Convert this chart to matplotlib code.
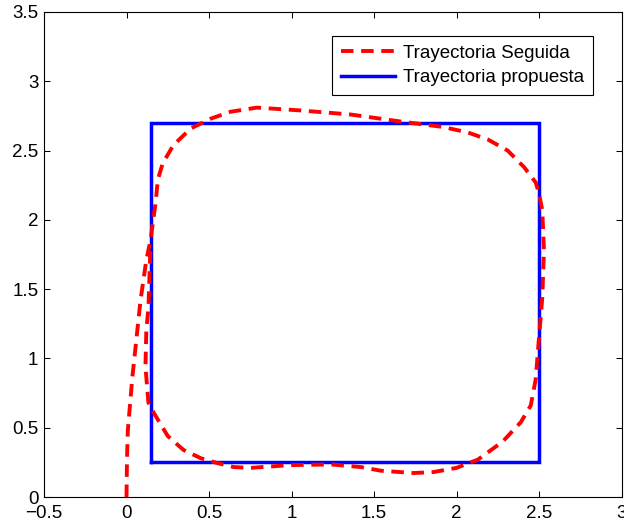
import matplotlib
matplotlib.use("Agg")
import matplotlib.pyplot as plt
import numpy as np
from matplotlib.ticker import FuncFormatter

plt.rcParams['font.family'] = ['Liberation Sans', 'DejaVu Sans']
plt.rcParams['lines.scale_dashes'] = False

# Trajectory followed (red dashed)
SEGUIDA_X = [0.0, 0.003, 0.008, 0.036, 0.085, 0.12, 0.145, 0.176, 0.19, 0.22,
             0.285, 0.39, 0.51, 0.63, 0.79, 1.05, 1.36, 1.66, 1.92, 2.07,
             2.19, 2.31, 2.41, 2.48, 2.50, 2.52, 2.53, 2.52, 2.50, 2.48,
             2.45, 2.39, 2.28, 2.13, 2.00, 1.86, 1.74, 1.54, 1.42, 1.24,
             0.99, 0.75, 0.65, 0.55, 0.45, 0.345, 0.25, 0.164, 0.133, 0.115,
             0.12, 0.133, 0.14, 0.145]
SEGUIDA_Y = [0.0, 0.27, 0.48, 0.87, 1.42, 1.71, 1.85, 2.12, 2.29, 2.41,
             2.54, 2.66, 2.73, 2.78, 2.81, 2.79, 2.76, 2.71, 2.67, 2.63,
             2.58, 2.50, 2.38, 2.27, 2.19, 2.07, 1.78, 1.44, 1.15, 0.85,
             0.66, 0.54, 0.40, 0.27, 0.21, 0.18, 0.173, 0.19, 0.216, 0.235,
             0.23, 0.21, 0.216, 0.245, 0.28, 0.34, 0.44, 0.61, 0.68, 0.94,
             1.2, 1.37, 1.62, 1.80]

# Proposed trajectory (blue square)
PROPUESTA_X = [0.15, 2.5, 2.5, 0.15, 0.15]
PROPUESTA_Y = [0.25, 0.25, 2.7, 2.7, 0.25]

X_TICKS = np.arange(-0.5, 3.01, 0.5)
Y_TICKS = np.arange(0, 3.51, 0.5)

fig = plt.figure(figsize=(6.24, 5.25), dpi=100)
ax = fig.add_axes([44 / 624, 28 / 525, (621.5 - 44) / 624, (497 - 12) / 525])

ax.plot(SEGUIDA_X, SEGUIDA_Y, color=(1, 0, 0), lw=2.8, dashes=(9.0, 5.5),
        label="Trayectoria Seguida", zorder=3)
ax.plot(PROPUESTA_X, PROPUESTA_Y, color=(0, 0, 1), lw=2.5,
        solid_joinstyle='miter', label="Trayectoria propuesta", zorder=2)

ax.set_xlim(-0.5, 3)
ax.set_ylim(0, 3.5)
ax.set_xticks(X_TICKS)
ax.set_yticks(Y_TICKS)
fmt = FuncFormatter(lambda v, p: ("%g" % v).replace("-", "\u2212"))
ax.xaxis.set_major_formatter(fmt)
ax.yaxis.set_major_formatter(fmt)
ax.tick_params(direction='in', length=4, width=0.75, top=True, right=True,
               labelsize=13.5, colors='black')
ax.tick_params(axis='x', pad=6)
ax.tick_params(axis='y', pad=4)
for s in ax.spines.values():
    s.set_linewidth(0.8)

leg = ax.legend(loc='upper right', bbox_to_anchor=(593 / 624, 1 - 36 / 525),
                bbox_transform=fig.transFigure, borderaxespad=0,
                fontsize=13.5, handlelength=2.9, handletextpad=0.45,
                labelspacing=0.4, borderpad=0.45, fancybox=False,
                framealpha=1, edgecolor='black')
leg.get_frame().set_linewidth(0.8)

fig.savefig("out.png", dpi=100)
